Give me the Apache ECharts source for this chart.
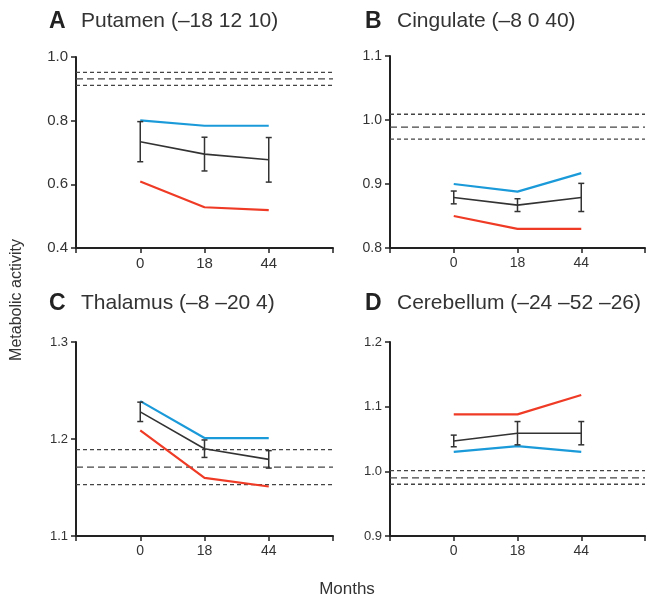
<!DOCTYPE html>
<html>
<head>
<meta charset="utf-8">
<script src="https://cdn.jsdelivr.net/npm/echarts@6.0.0/dist/echarts.min.js"></script>
<style>
  html, body { margin: 0; padding: 0; background: #fff; }
  #main { width: 648px; height: 598px; }
</style>
</head>
<body>
<div id="main"></div>
<script>
const chartDom = document.getElementById('main');
let myChart = echarts.init(chartDom);

// months after baseline, drawn at evenly spaced slots 1..3
const months = ['0', '18', '44'];
const slots = [1, 2, 3];

const panelLetters = ['A', 'B', 'C', 'D'];
const panelTitles = ['Putamen (–18 12 10)', 'Cingulate (–8 0 40)', 'Thalamus (–8 –20 4)', 'Cerebellum (–24 –52 –26)'];

// y axis ranges [min, max, interval]
const yRanges = [[0.4, 1.0, 0.2], [0.8, 1.1, 0.1], [1.1, 1.3, 0.1], [0.9, 1.2, 0.1]];

// reference band: upper, middle, lower
const refLines = [
    [0.952, 0.931, 0.911],
    [1.009, 0.989, 0.970],
    [1.189, 1.171, 1.153],
    [1.001, 0.990, 0.980]
];

const blueValues = [
    [0.801, 0.784, 0.784],
    [0.900, 0.888, 0.917],
    [1.239, 1.201, 1.201],
    [1.030, 1.039, 1.030]
];

const meanValues = [
    [0.734, 0.695, 0.677],
    [0.879, 0.867, 0.879],
    [1.228, 1.190, 1.179],
    [1.047, 1.059, 1.059]
];

const errValues = [
    [0.063, 0.053, 0.070],
    [0.010, 0.010, 0.022],
    [0.010, 0.009, 0.009],
    [0.009, 0.018, 0.018]
];

const redValues = [
    [0.609, 0.528, 0.519],
    [0.850, 0.830, 0.830],
    [1.209, 1.160, 1.151],
    [1.088, 1.088, 1.118]
];

const grids = [
    { left: 76, top: 57, width: 257, height: 191 },
    { left: 390, top: 56, width: 258, height: 192 },
    { left: 76, top: 342, width: 257, height: 194 },
    { left: 390, top: 342, width: 258, height: 194 }
];
const yLabelSize = [15, 14, 13, 13];
const xLabelSize = [15, 14, 14, 14];
const titlePos = [[44, 5], [360, 5], [44, 287], [360, 287]];

const font = '"Liberation Sans", Arial, sans-serif';
const axisColor = '#222';

toPairs = (vals) => vals.map((v, i) => [slots[i], v]);

errorBarSeries = (idx) => ({
    type: 'custom',
    xAxisIndex: idx,
    yAxisIndex: idx,
    silent: true,
    z: 4,
    data: meanValues[idx].map((m, i) => [slots[i], m - errValues[idx][i], m + errValues[idx][i]]),
    renderItem: (params, api) => {
        const lo = api.coord([api.value(0), api.value(1)]);
        const hi = api.coord([api.value(0), api.value(2)]);
        const style = { stroke: '#333', lineWidth: 1.5 };
        return {
            type: 'group',
            children: [
                { type: 'line', shape: { x1: lo[0], y1: lo[1], x2: hi[0], y2: hi[1] }, style },
                { type: 'line', shape: { x1: lo[0] - 3, y1: lo[1], x2: lo[0] + 3, y2: lo[1] }, style },
                { type: 'line', shape: { x1: hi[0] - 3, y1: hi[1], x2: hi[0] + 3, y2: hi[1] }, style }
            ]
        };
    }
});

lineSeries = (idx, vals, color, width, z) => ({
    type: 'line',
    xAxisIndex: idx,
    yAxisIndex: idx,
    data: toPairs(vals),
    symbol: 'none',
    silent: true,
    z,
    lineStyle: { color, width }
});

refSeries = (idx, v, dash) => ({
    type: 'line',
    xAxisIndex: idx,
    yAxisIndex: idx,
    data: [[0, v], [4, v]],
    symbol: 'none',
    silent: true,
    z: 1,
    lineStyle: { color: '#444', width: 1.3, type: dash }
});

let series = [];
let xAxes = [];
let yAxes = [];
let titles = [];

panelLetters.forEach((letter, idx) => {
    const [ymin, ymax, step] = yRanges[idx];
    xAxes.push({
        gridIndex: idx,
        type: 'value',
        min: 0,
        max: 4,
        interval: 1,
        splitLine: { show: false },
        axisLine: { lineStyle: { color: axisColor, width: 2 } },
        axisTick: { length: 5, lineStyle: { color: axisColor, width: 1.5 } },
        axisLabel: {
            margin: 8,
            fontFamily: font,
            fontSize: xLabelSize[idx],
            color: '#333',
            formatter: (v) => (v >= 1 && v <= 3 ? months[v - 1] : '')
        }
    });
    yAxes.push({
        gridIndex: idx,
        type: 'value',
        min: ymin,
        max: ymax,
        interval: step,
        splitLine: { show: false },
        axisLine: { show: true, lineStyle: { color: axisColor, width: 2 } },
        axisTick: { show: true, length: 5, lineStyle: { color: axisColor, width: 1.5 } },
        axisLabel: {
            margin: 8,
            fontFamily: font,
            fontSize: yLabelSize[idx],
            color: '#333',
            formatter: (v) => v.toFixed(1)
        }
    });
    titles.push({
        left: titlePos[idx][0],
        top: titlePos[idx][1],
        text: `{l|${letter}}{t|${panelTitles[idx]}}`,
        textStyle: {
            rich: {
                l: { fontFamily: font, fontWeight: 'bold', fontSize: 23, color: '#222', width: 32 },
                t: { fontFamily: font, fontWeight: 'normal', fontSize: 21, color: '#333' }
            }
        }
    });

    series.push(refSeries(idx, refLines[idx][0], [4, 3]));
    series.push(refSeries(idx, refLines[idx][1], [7, 4]));
    series.push(refSeries(idx, refLines[idx][2], [4, 3]));
    series.push(lineSeries(idx, blueValues[idx], '#1b9ad9', 2.2, 3));
    series.push(lineSeries(idx, redValues[idx], '#ef3b26', 2.2, 3));
    series.push(lineSeries(idx, meanValues[idx], '#333', 1.6, 4));
    series.push(errorBarSeries(idx));
});

myChart.setOption({
    animation: false,
    title: titles,
    grid: grids,
    xAxis: xAxes,
    yAxis: yAxes,
    series,
    graphic: [
        {
            type: 'text',
            x: 17,
            y: 300,
            rotation: Math.PI / 2,
            style: {
                text: 'Metabolic activity',
                fontFamily: font,
                fontSize: 16,
                fill: '#333',
                align: 'center',
                verticalAlign: 'middle'
            }
        },
        {
            type: 'text',
            x: 347,
            y: 589,
            style: {
                text: 'Months',
                fontFamily: font,
                fontSize: 17,
                fill: '#333',
                align: 'center',
                verticalAlign: 'middle'
            }
        }
    ]
});

window.addEventListener('resize', () => {
    myChart.resize();
});
</script>
</body>
</html>
